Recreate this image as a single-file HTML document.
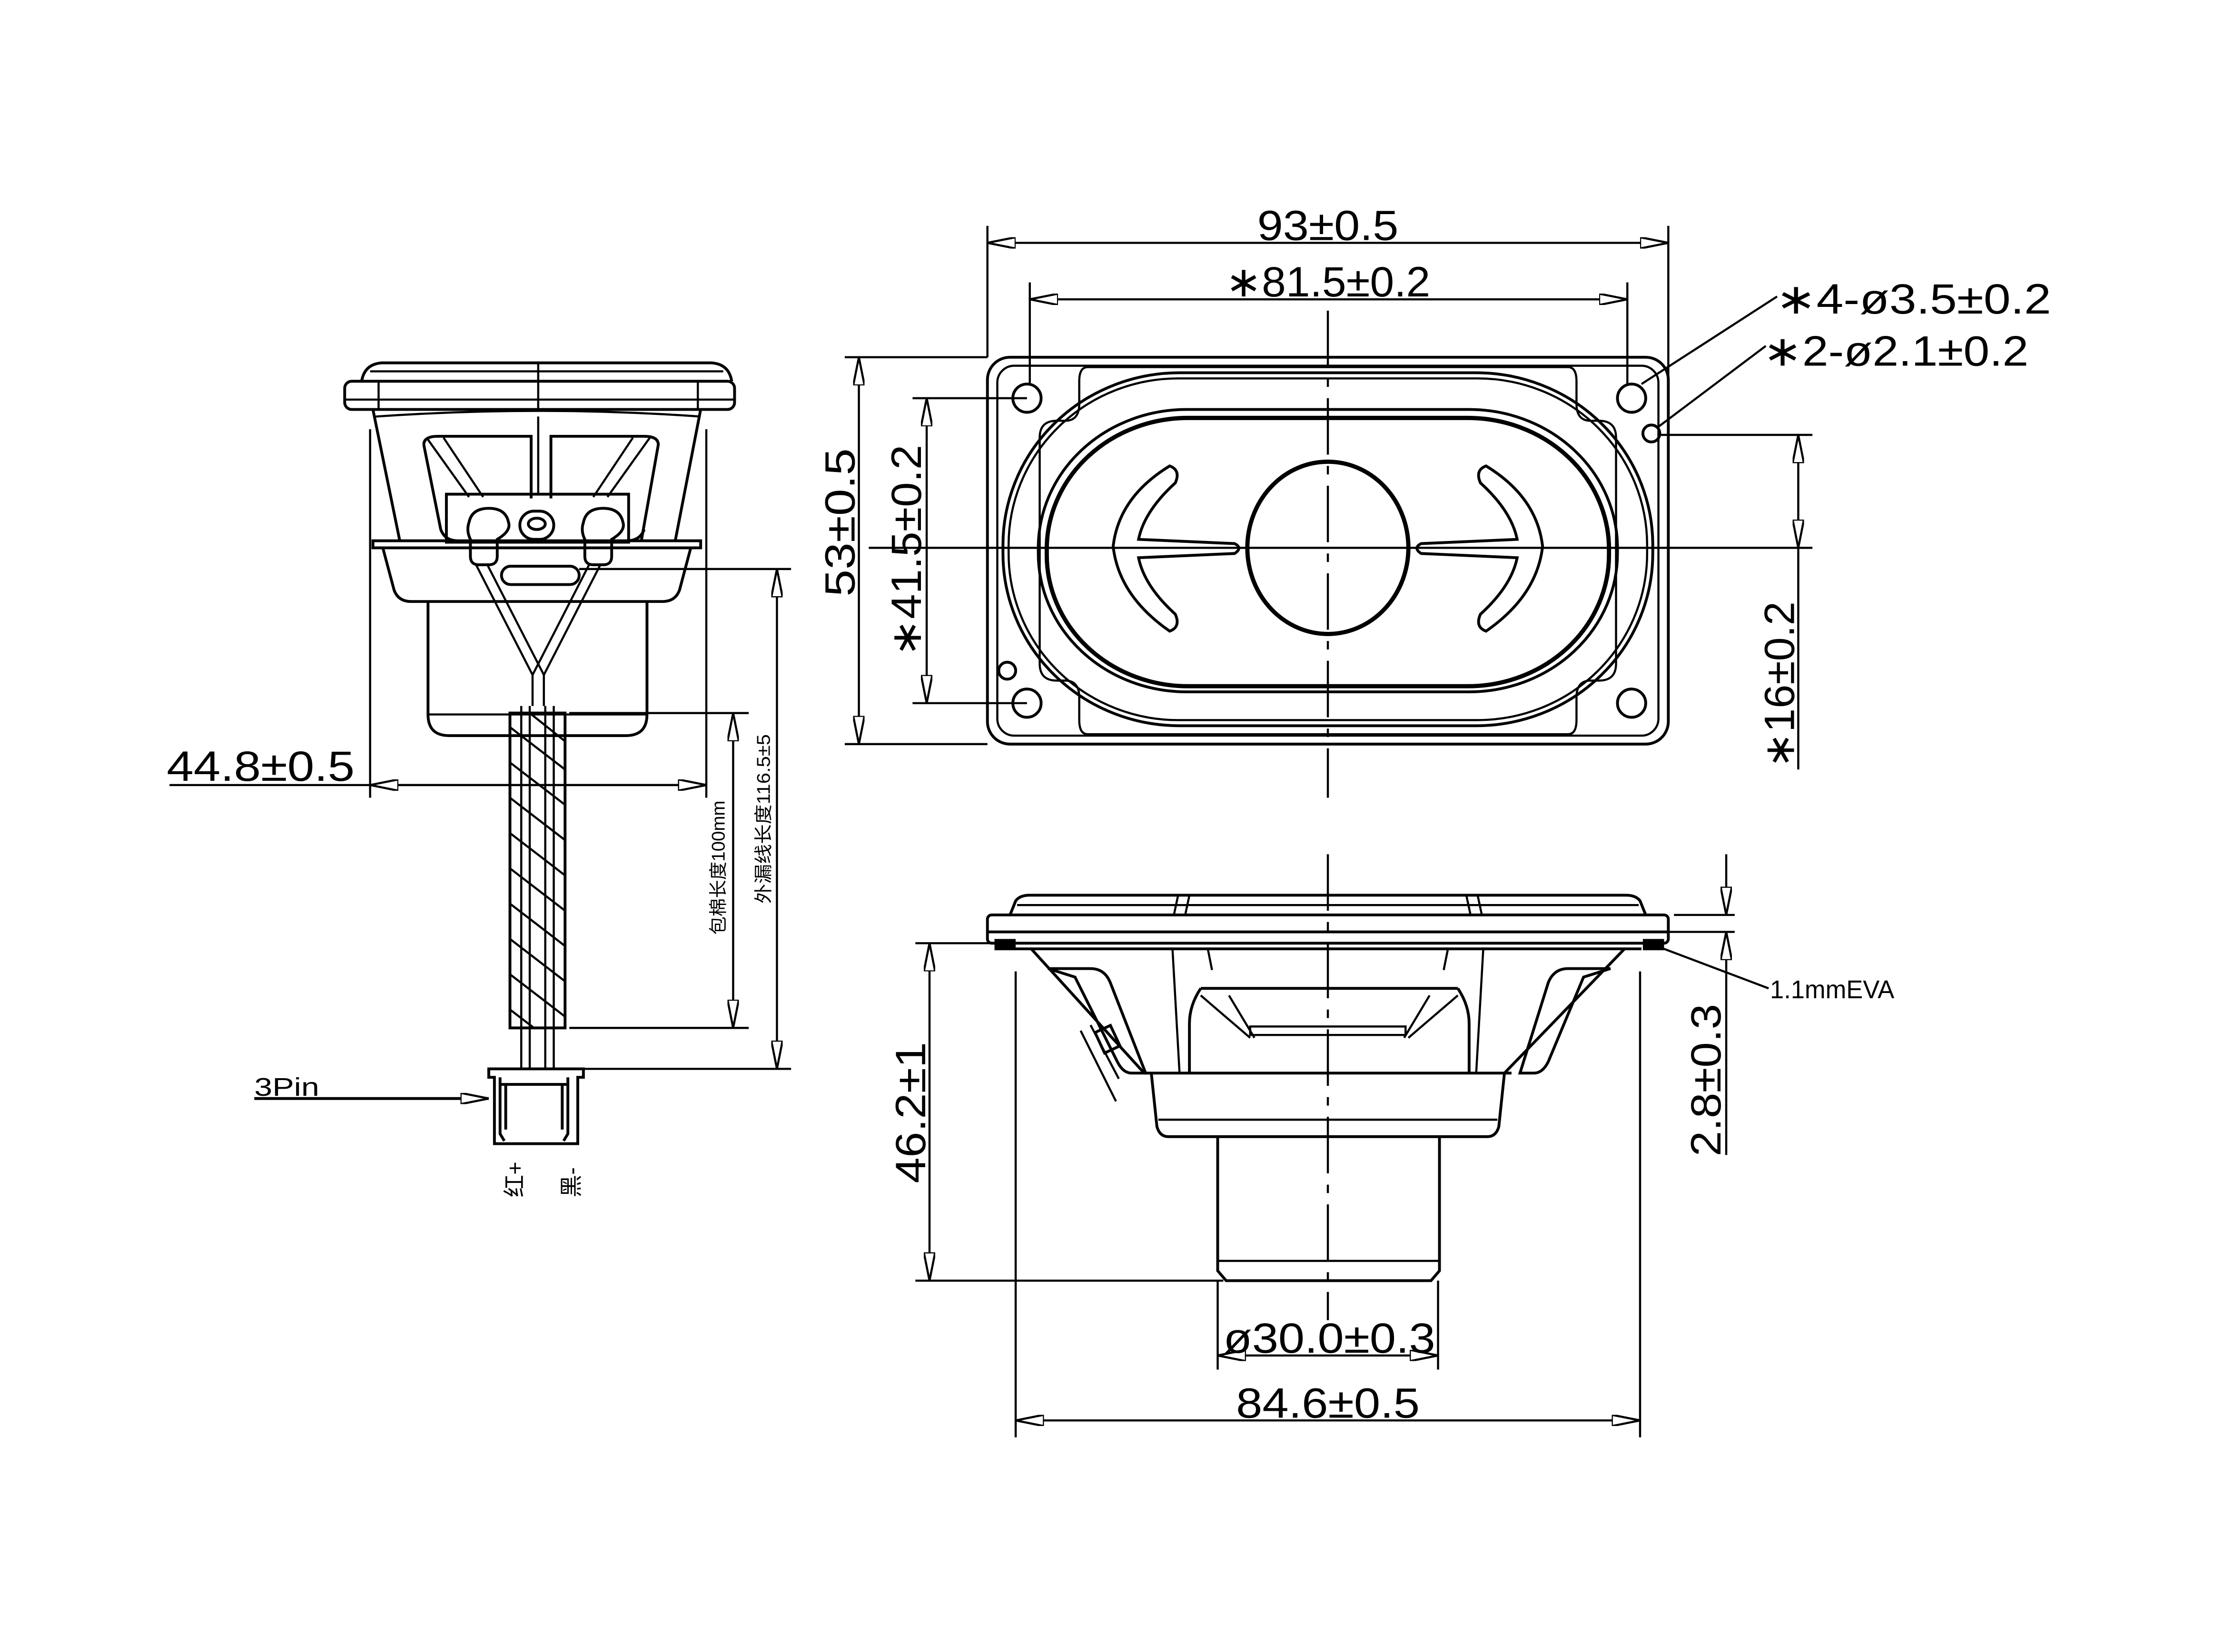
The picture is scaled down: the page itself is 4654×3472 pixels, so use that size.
<!DOCTYPE html>
<html><head><meta charset="utf-8"><style>
html,body{margin:0;padding:0;background:#fff}
svg{display:block}
text{font-family:"Liberation Sans","Noto Sans CJK SC",sans-serif;fill:#000}
</style></head><body>
<svg width="4654" height="3472" viewBox="0 0 1568 1170" preserveAspectRatio="none" xmlns="http://www.w3.org/2000/svg">
<defs>
<marker id="a" viewBox="0 0 20 8" refX="20" refY="4" markerWidth="20" markerHeight="8" markerUnits="userSpaceOnUse" orient="auto-start-reverse"><path d="M0,0 L20,4 L0,8 Z" fill="#fff" stroke="#000" stroke-width="1.5"/></marker>
</defs>
<rect width="1600" height="1200" fill="#fff"/>
<g fill="none" stroke="#000" stroke-width="2">

<!-- ===== TOP VIEW ===== -->
<rect x="699" y="253" width="482" height="274" rx="16"/>
<rect x="706" y="259" width="468" height="262" rx="12" stroke-width="1.5"/>
<path d="M770,260 h340 q6,0 6,10 v16 q0,12 10,12 h6 q12,0 12,12 v160 q0,12 -12,12 h-6 q-10,0 -10,12 v16 q0,10 -6,10 h-340 q-6,0 -6,-10 v-16 q0,-12 -10,-12 h-6 q-12,0 -12,-12 v-160 q0,-12 12,-12 h6 q10,0 10,-12 v-16 q0,-10 6,-10z" stroke-width="1.5"/>
<rect x="710" y="264" width="460" height="250" rx="125" ry="122" stroke-width="2"/>
<rect x="714" y="268" width="452" height="242" rx="120" ry="118" stroke-width="1.5"/>
<rect x="735" y="290" width="410" height="200" rx="105" ry="98" stroke-width="2"/>
<rect x="741" y="296" width="398" height="190" rx="100" ry="93" stroke-width="3"/>
<ellipse cx="940" cy="388" rx="57" ry="61" stroke-width="3"/>
<circle cx="727" cy="282" r="10"/><circle cx="1155" cy="282" r="10"/>
<circle cx="727" cy="498" r="10"/><circle cx="1155" cy="498" r="10"/>
<circle cx="1169" cy="307" r="6"/><circle cx="713" cy="475" r="6"/>
<!-- slots -->
<path d="M828,330 q8,3 4,12 q-22,20 -26,40 l68,3 q6,3 0,7 l-68,3 q4,20 26,40 q4,9 -4,12 q-36,-25 -40,-60 q4,-35 40,-57 z" stroke-width="2"/>
<path d="M828,330 q8,3 4,12 q-22,20 -26,40 l68,3 q6,3 0,7 l-68,3 q4,20 26,40 q4,9 -4,12 q-36,-25 -40,-60 q4,-35 40,-57 z" stroke-width="2" transform="translate(1880,0) scale(-1,1)"/>
<!-- center lines -->
<line x1="940" y1="220" x2="940" y2="565" stroke-dasharray="40,8,6,8" stroke-width="1.5"/>
<line x1="615" y1="388" x2="1283" y2="388" stroke-width="1.5"/>

<!-- dims top -->
<line x1="699" y1="160" x2="699" y2="253" stroke-width="1.5"/>
<line x1="1181" y1="160" x2="1181" y2="268" stroke-width="1.5"/>
<line x1="699" y1="172" x2="1181" y2="172" stroke-width="1.5" marker-start="url(#a)" marker-end="url(#a)"/>
<line x1="729" y1="200" x2="729" y2="272" stroke-width="1.5"/>
<line x1="1152" y1="200" x2="1152" y2="272" stroke-width="1.5"/>
<line x1="729" y1="212" x2="1152" y2="212" stroke-width="1.5" marker-start="url(#a)" marker-end="url(#a)"/>
<!-- dims left -->
<line x1="598" y1="253" x2="699" y2="253" stroke-width="1.5"/>
<line x1="598" y1="527" x2="699" y2="527" stroke-width="1.5"/>
<line x1="608" y1="253" x2="608" y2="527" stroke-width="1.5" marker-start="url(#a)" marker-end="url(#a)"/>
<line x1="646" y1="282" x2="727" y2="282" stroke-width="1.5"/>
<line x1="646" y1="498" x2="727" y2="498" stroke-width="1.5"/>
<line x1="656" y1="282" x2="656" y2="498" stroke-width="1.5" marker-start="url(#a)" marker-end="url(#a)"/>
<!-- dims right -->
<line x1="1175" y1="308" x2="1283" y2="308" stroke-width="1.5"/>
<line x1="1273" y1="308" x2="1273" y2="388" stroke-width="1.5" marker-start="url(#a)" marker-end="url(#a)"/>
<line x1="1273" y1="388" x2="1273" y2="545" stroke-width="1.5"/>
<line x1="1162" y1="272" x2="1258" y2="210" stroke-width="1.5"/>
<line x1="1173" y1="303" x2="1250" y2="245" stroke-width="1.5"/>

<!-- ===== SIDE VIEW (left) ===== -->
<path d="M256,270 q2,-12 14,-13 h234 q12,1 14,13" />
<line x1="262" y1="263" x2="512" y2="263" stroke-width="1.5"/>
<line x1="381" y1="257" x2="381" y2="290" stroke-width="1.5"/>
<rect x="244" y="270" width="276" height="20" rx="5"/>
<line x1="268" y1="270" x2="268" y2="290" stroke-width="1.5"/>
<line x1="494" y1="270" x2="494" y2="290" stroke-width="1.5"/>
<line x1="244" y1="283" x2="520" y2="283" stroke-width="1.5"/>
<path d="M264,290 L283,383 M496,290 L478,383"/>
<path d="M266,295 q116,-8 230,0" stroke-width="1.5"/>
<line x1="381" y1="295" x2="381" y2="350" stroke-width="1.5"/>
<path d="M300,315 q0,-6 10,-6 h66 v44 M390,353 v-44 h66 q10,0 10,6 l-12,68"/>
<path d="M300,315 l12,60 q3,8 12,8 M456,375 q-3,8 -12,8"/>
<path d="M302,310 l30,42 M314,310 l28,42 M460,310 l-30,42 M448,310 l-28,42" stroke-width="1.5"/>
<rect x="316" y="350" width="129" height="34"/>
<path d="M333,382 v12 q0,6 6,6 h7 q6,0 6,-6 v-12 q10,-6 8,-12 q-2,-10 -14,-10 q-12,0 -14,10 q-2,6 1,12z"/>
<path d="M414,382 v12 q0,6 6,6 h7 q6,0 6,-6 v-12 q10,-6 8,-12 q-2,-10 -14,-10 q-12,0 -14,10 q-2,6 1,12z"/>
<rect x="368" y="362" width="24" height="20" rx="10"/><ellipse cx="380" cy="371" rx="6" ry="4"/>
<rect x="264" y="383" width="232" height="5"/>
<path d="M271,388 l8,30 q3,8 12,8 h178 q9,0 12,-8 l8,-30"/>
<rect x="355" y="401" width="55" height="13" rx="6.5"/>
<path d="M303,426 v80 q0,15 15,15 h125 q15,0 15,-15 v-80"/>
<line x1="303" y1="506" x2="458" y2="506" stroke-width="1.5"/>
<line x1="262" y1="304" x2="262" y2="565" stroke-width="1.5"/>
<line x1="500" y1="304" x2="500" y2="565" stroke-width="1.5"/>
<!-- wires -->
<path d="M340,400 l40,78 v22 M348,400 l40,78 v22 M420,400 l-40,78 v22 M428,400 l-40,78 v22" stroke-width="1.5" transform="translate(-3,0)"/>
<path d="M369,500 v257 M375,500 v257 M386,500 v257 M392,500 v257" stroke-width="1.5"/>
<rect x="361" y="505" width="39" height="223"/>
<g stroke-width="1.5">
<path d="M361,515 l39,30 M361,540 l39,30 M361,565 l39,30 M361,590 l39,30 M361,615 l39,30 M361,640 l39,30 M361,665 l39,30 M361,690 l39,30 M375,505 l25,20 M361,715 l17,13"/>
</g>
<line x1="403" y1="505" x2="530" y2="505" stroke-width="1.5"/>
<line x1="403" y1="728" x2="530" y2="728" stroke-width="1.5"/>
<line x1="519" y1="505" x2="519" y2="728" stroke-width="1.5" marker-start="url(#a)" marker-end="url(#a)"/>
<line x1="410" y1="403" x2="560" y2="403" stroke-width="1.5"/>
<line x1="413" y1="757" x2="560" y2="757" stroke-width="1.5"/>
<line x1="550" y1="403" x2="550" y2="757" stroke-width="1.5" marker-start="url(#a)" marker-end="url(#a)"/>
<!-- connector -->
<path d="M346,757 h67 v6 h-4 v47 h-59 v-47 h-4z"/>
<path d="M354,763 v40 l3,5 M402,763 v40 l-3,5 M358,768 v32 M398,768 v32 M354,768 h48"/>
<line x1="180" y1="778" x2="346" y2="778" stroke-width="2" marker-end="url(#a)"/>
<!-- 44.8 dim -->
<line x1="120" y1="556" x2="500" y2="556" stroke-width="1.5"/>
<line x1="262" y1="556" x2="500" y2="556" stroke-width="1.5" marker-start="url(#a)" marker-end="url(#a)"/>

<!-- ===== BOTTOM VIEW ===== -->
<path d="M715,648 l4,-10 q3,-4 10,-4 h422 q7,0 10,4 l4,10"/>
<line x1="720" y1="641" x2="1160" y2="641" stroke-width="1.5"/>
<path d="M834,634 l-3,14 M842,634 l-3,14 M1046,634 l3,14 M1038,634 l3,14" stroke-width="1.5"/>
<rect x="699" y="648" width="482" height="20" rx="3"/>
<line x1="699" y1="660" x2="1181" y2="660"/>
<rect x="705" y="666" width="13" height="6" fill="#000"/>
<rect x="1164" y="666" width="13" height="6" fill="#000"/>
<path d="M718,672 h444 M730,672 l80,88 M1150,672 l-85,88"/>
<path d="M830,672 l5,88 M1050,672 l-5,88 M855,672 l3,15 M1025,672 l-3,15" stroke-width="1.5"/>
<path d="M742,686 h30 q10,0 14,10 l25,64 h-10 q-6,0 -10,-8 l-30,-60 z"/>
<path d="M1140,686 h-30 q-10,0 -14,10 l-20,64 h10 q6,0 10,-8 l25,-60 z"/>
<path d="M850,700 q-8,12 -8,25 v35 M1032,700 q8,12 8,25 v35 M850,700 h182"/>
<path d="M850,705 l35,30 M1032,705 l-35,30 M870,705 l18,30 M1012,705 l-18,30 M885,727 h110 v6 h-110z" stroke-width="1.5"/>
<path d="M765,730 l25,50 M772,726 l20,38" stroke-width="1.5"/>
<rect x="778" y="728" width="12" height="16" transform="rotate(-25 784 736)"/>
<path d="M810,760 h260 M815,760 l4,38 q2,7 8,7 h226 q6,0 8,-7 l4,-38"/>
<line x1="820" y1="793" x2="1060" y2="793" stroke-width="1.5"/>
<path d="M862,805 v95 l6,7 h145 l6,-7 v-95"/>
<line x1="862" y1="893" x2="1018" y2="893" stroke-width="1.5"/>
<line x1="940" y1="605" x2="940" y2="935" stroke-dasharray="40,8,6,8" stroke-width="1.5"/>
<!-- bottom dims -->
<line x1="648" y1="668" x2="830" y2="668" stroke-width="1.5"/>
<line x1="648" y1="907" x2="866" y2="907" stroke-width="1.5"/>
<line x1="658" y1="668" x2="658" y2="907" stroke-width="1.5" marker-start="url(#a)" marker-end="url(#a)"/>
<line x1="862" y1="907" x2="862" y2="970" stroke-width="1.5"/>
<line x1="1018" y1="907" x2="1018" y2="970" stroke-width="1.5"/>
<line x1="862" y1="960" x2="1018" y2="960" stroke-width="1.5" marker-start="url(#a)" marker-end="url(#a)"/>
<line x1="719" y1="688" x2="719" y2="1018" stroke-width="1.5"/>
<line x1="1161" y1="688" x2="1161" y2="1018" stroke-width="1.5"/>
<line x1="719" y1="1006" x2="1161" y2="1006" stroke-width="1.5" marker-start="url(#a)" marker-end="url(#a)"/>
<line x1="1185" y1="648" x2="1228" y2="648" stroke-width="1.5"/>
<line x1="1180" y1="660" x2="1228" y2="660" stroke-width="1.5"/>
<line x1="1222" y1="605" x2="1222" y2="648" stroke-width="1.5" marker-end="url(#a)"/>
<line x1="1222" y1="690" x2="1222" y2="660" stroke-width="1.5" marker-end="url(#a)"/>
<line x1="1222" y1="690" x2="1222" y2="818" stroke-width="1.5"/>
<line x1="1170" y1="669" x2="1252" y2="700" stroke-width="1.5"/>
</g>

<!-- TEXT -->
<g font-size="30">
<text x="940" y="170" text-anchor="middle" textLength="100" lengthAdjust="spacingAndGlyphs">93±0.5</text>
<text x="940" y="210" text-anchor="middle" textLength="145" lengthAdjust="spacingAndGlyphs">∗81.5±0.2</text>
<text x="1257" y="222" textLength="195" lengthAdjust="spacingAndGlyphs">∗4-ø3.5±0.2</text>
<text x="1248" y="259" textLength="188" lengthAdjust="spacingAndGlyphs">∗2-ø2.1±0.2</text>
<text transform="translate(605,370) rotate(-90)" text-anchor="middle" textLength="105" lengthAdjust="spacingAndGlyphs">53±0.5</text>
<text transform="translate(652,390) rotate(-90)" text-anchor="middle" textLength="150" lengthAdjust="spacingAndGlyphs">∗41.5±0.2</text>
<text transform="translate(1270,485) rotate(-90)" text-anchor="middle" textLength="118" lengthAdjust="spacingAndGlyphs">∗16±0.2</text>
<text x="118" y="553" textLength="133" lengthAdjust="spacingAndGlyphs">44.8±0.5</text>
<text transform="translate(655,788) rotate(-90)" text-anchor="middle" textLength="100" lengthAdjust="spacingAndGlyphs">46.2±1</text>
<text transform="translate(1218,765) rotate(-90)" text-anchor="middle" textLength="108" lengthAdjust="spacingAndGlyphs">2.8±0.3</text>
<text x="866" y="958" textLength="150" lengthAdjust="spacingAndGlyphs">ø30.0±0.3</text>
<text x="940" y="1004" text-anchor="middle" textLength="130" lengthAdjust="spacingAndGlyphs">84.6±0.5</text>
</g>
<text x="1253" y="707" font-size="18" textLength="88" lengthAdjust="spacingAndGlyphs">1.1mmEVA</text>
<text x="180" y="776" font-size="18" textLength="46" lengthAdjust="spacingAndGlyphs">3Pin</text>
<text transform="translate(513,662) rotate(-90)" font-size="13" textLength="95" lengthAdjust="spacingAndGlyphs">包棉长度100mm</text>
<text transform="translate(545,640) rotate(-90)" font-size="13" textLength="120" lengthAdjust="spacingAndGlyphs">外漏线长度116.5±5</text>
<text transform="translate(370,848) rotate(-90)" font-size="16">红+</text>
<text transform="translate(410,848) rotate(-90)" font-size="16">黑-</text>
</svg>
</body></html>
